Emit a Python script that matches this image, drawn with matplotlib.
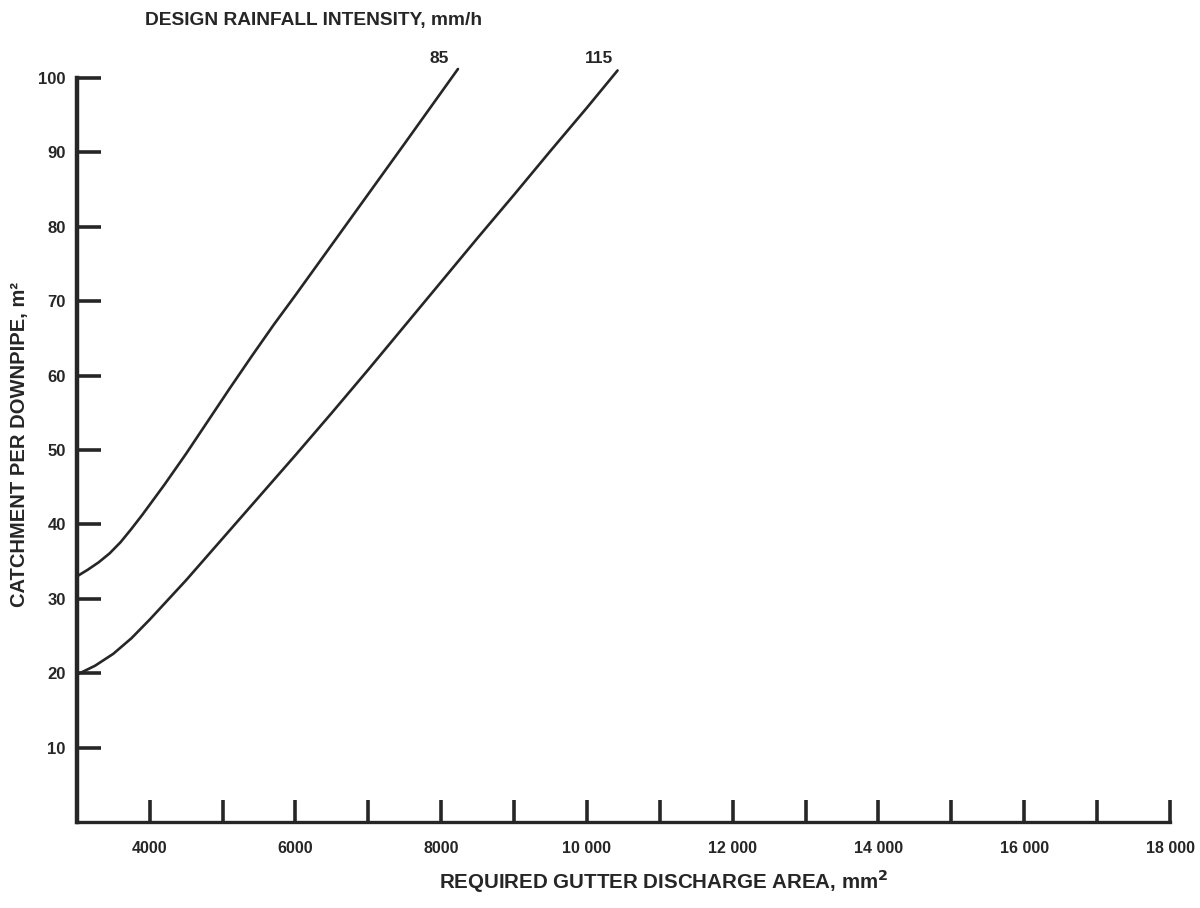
import numpy as np
import matplotlib
matplotlib.use("Agg")
import matplotlib.pyplot as plt

# curves (x in mm^2, y in m^2)
x_85 = [3000, 3150, 3300, 3450, 3600, 3750, 3900, 4200, 4500, 4800, 5100,
        5400, 5700, 6000, 6500, 7000, 7500, 8230]
y_85 = [33.0, 33.9, 34.9, 36.1, 37.6, 39.4, 41.3, 45.3, 49.5, 53.9, 58.3,
        62.6, 66.8, 70.8, 77.6, 84.4, 91.2, 101.2]
x_115 = [3000, 3250, 3500, 3750, 4000, 4500, 5000, 5500, 6000, 6500, 7000,
         7500, 8000, 8500, 9000, 9500, 10000, 10420]
y_115 = [19.8, 21.0, 22.6, 24.7, 27.2, 32.5, 38.1, 43.7, 49.3, 55.0, 60.8,
         66.7, 72.6, 78.5, 84.3, 90.2, 96.0, 101.0]
curve_labels = ["85", "115"]

xticks = list(range(4000, 18001, 1000))
xlabels = ["4000", "", "6000", "", "8000", "", "10 000", "", "12 000", "",
           "14 000", "", "16 000", "", "18 000"]
yticks = [10, 20, 30, 40, 50, 60, 70, 80, 90, 100]

plt.rcParams['font.family'] = ['Liberation Sans', 'DejaVu Sans']
ink = "#262626"

fig = plt.figure(figsize=(12, 9.08), dpi=100)
ax = fig.add_axes([0.064, 0.0947, 0.911, 0.8195])

for xs, ys, lab in zip([x_85, x_115], [y_85, y_115], curve_labels):
    ax.plot(xs, ys, color=ink, lw=1.9, clip_on=False, solid_joinstyle='round',
            solid_capstyle='round')
    ax.text(xs[-1] - 260, 101.6, lab, ha='center', va='bottom',
            fontsize=12.5, fontweight='bold', color=ink)

ax.set_xlim(3000, 18000)
ax.set_ylim(0, 100)
for s in ['top', 'right']:
    ax.spines[s].set_visible(False)
ax.spines['left'].set_linewidth(3.2)
ax.spines['bottom'].set_linewidth(2.4)
ax.spines['left'].set_color(ink)
ax.spines['bottom'].set_color(ink)

ax.set_xticks(xticks)
ax.set_xticklabels(xlabels)
ax.set_yticks(yticks)
ax.tick_params(axis='x', direction='in', length=16, width=2.6, color=ink,
               pad=14, labelsize=11.5, labelcolor=ink)
ax.tick_params(axis='y', direction='in', length=17, width=2.6, color=ink,
               pad=8, labelsize=12, labelcolor=ink)
for t in ax.get_xticklabels() + ax.get_yticklabels():
    t.set_fontweight('bold')

fig.text(0.121, 0.977, "DESIGN RAINFALL INTENSITY, mm/h", fontsize=13.8,
         fontweight='bold', color=ink, ha='left', va='center')
fig.text(0.553, 0.029, r"REQUIRED GUTTER DISCHARGE AREA, mm$^{\mathbf{2}}$",
         fontsize=14.8, fontweight='bold', color=ink, ha='center', va='center')
fig.text(0.016, 0.51, "CATCHMENT PER DOWNPIPE, m²", fontsize=14.5,
         fontweight='bold', color=ink, rotation=90, ha='center', va='center')

fig.savefig("out.png", dpi=100, facecolor='white')
